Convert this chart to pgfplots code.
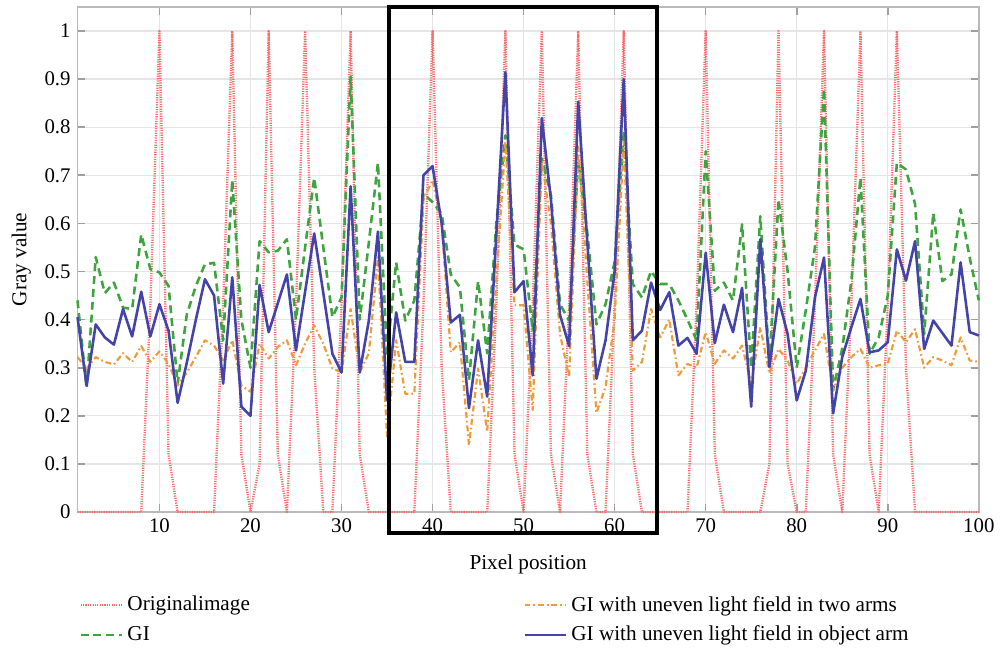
\documentclass[border=0pt]{standalone}
\usepackage{fontspec}
\setmainfont{Liberation Serif}
\usepackage{pgfplots}
\usepackage{pgfplotstable}
\pgfplotsset{compat=1.18}

\definecolor{origred}{HTML}{F46E6E}
\definecolor{gigreen}{HTML}{3FA33F}
\definecolor{twoorange}{HTML}{EE9B3C}
\definecolor{objblue}{HTML}{4343A8}

% x  orig  gi  two  obj
\pgfplotstableread{
x orig gi two obj
1 0 0.44 0.322 0.405
2 0 0.257 0.298 0.263
3 0 0.53 0.322 0.39
4 0 0.455 0.312 0.363
5 0 0.477 0.307 0.348
6 0 0.425 0.33 0.422
7 0 0.422 0.312 0.365
8 0 0.577 0.345 0.458
9 0.43 0.505 0.312 0.365
10 1 0.498 0.334 0.432
11 0.12 0.47 0.308 0.377
12 0 0.267 0.263 0.227
13 0 0.41 0.29 0.31
14 0 0.47 0.322 0.40
15 0 0.515 0.357 0.484
16 0 0.518 0.346 0.45
17 0.43 0.357 0.315 0.267
18 1 0.69 0.357 0.488
19 0.12 0.40 0.263 0.219
20 0 0.30 0.25 0.20
21 0.1 0.563 0.35 0.472
22 1 0.54 0.319 0.374
23 0.12 0.543 0.343 0.434
24 0 0.567 0.357 0.494
25 0.43 0.40 0.305 0.336
26 1 0.55 0.35 0.458
27 0.3 0.695 0.388 0.579
28 0 0.55 0.35 0.455
29 0 0.405 0.298 0.329
30 0.43 0.446 0.291 0.29
31 1 0.905 0.422 0.677
32 0.12 0.40 0.291 0.29
33 0 0.56 0.33 0.398
34 0 0.726 0.53 0.583
35 0 0.325 0.157 0.232
36 0 0.519 0.357 0.415
37 0 0.398 0.246 0.312
38 0 0.44 0.246 0.312
39 0.43 0.662 0.65 0.70
40 1 0.644 0.69 0.719
41 0.3 0.62 0.60 0.60
42 0 0.494 0.332 0.394
43 0 0.467 0.353 0.41
44 0 0.274 0.139 0.216
45 0 0.48 0.298 0.357
46 0 0.33 0.167 0.24
47 0.43 0.60 0.48 0.575
48 1 0.783 0.77 0.914
49 0.12 0.556 0.43 0.457
50 0 0.546 0.43 0.48
51 0.43 0.377 0.212 0.284
52 1 0.735 0.73 0.819
53 0.12 0.66 0.60 0.65
54 0 0.432 0.37 0.41
55 0.43 0.398 0.28 0.345
56 1 0.73 0.76 0.853
57 0.12 0.58 0.48 0.56
58 0 0.39 0.206 0.277
59 0 0.432 0.26 0.357
60 0.43 0.52 0.40 0.50
61 1 0.788 0.77 0.90
62 0.12 0.474 0.294 0.357
63 0 0.446 0.312 0.377
64 0 0.501 0.422 0.477
65 0 0.474 0.363 0.42
66 0 0.474 0.40 0.457
67 0 0.44 0.284 0.346
68 0 0.40 0.308 0.362
69 0.43 0.357 0.30 0.329
70 1 0.75 0.374 0.539
71 0.12 0.46 0.308 0.351
72 0 0.477 0.336 0.431
73 0 0.44 0.319 0.374
74 0 0.598 0.346 0.466
75 0 0.30 0.267 0.219
76 0 0.615 0.384 0.567
77 0.1 0.308 0.288 0.301
78 1 0.65 0.339 0.443
79 0.1 0.50 0.315 0.37
80 0 0.30 0.267 0.232
81 0 0.42 0.30 0.294
82 0.43 0.55 0.336 0.446
83 1 0.88 0.37 0.529
84 0.12 0.253 0.253 0.205
85 0 0.34 0.30 0.322
86 0.43 0.48 0.322 0.384
87 1 0.695 0.339 0.443
88 0.12 0.329 0.30 0.332
89 0 0.363 0.305 0.336
90 0.43 0.45 0.308 0.353
91 1 0.726 0.377 0.546
92 0.3 0.712 0.353 0.481
93 0 0.64 0.38 0.563
94 0 0.37 0.30 0.339
95 0 0.622 0.322 0.398
96 0 0.48 0.315 0.372
97 0 0.494 0.305 0.346
98 0 0.629 0.363 0.519
99 0 0.529 0.315 0.374
100 0 0.44 0.312 0.367
}\grayvalues

\begin{document}
\begin{tikzpicture}
\begin{axis}[
  scale only axis,
  width=455pt,
  height=255pt,
  xmin=1, xmax=100,
  ymin=0, ymax=1.05,
  xtick={10,20,...,100},
  ytick={0,0.1,...,1},
  yticklabels={0,0.1,0.2,0.3,0.4,0.5,0.6,0.7,0.8,0.9,1},
  grid=major,
  major grid style={gray!20, line width=0.6pt},
  axis line style={gray!55, line width=0.8pt},
  major tick style={gray!75, line width=0.8pt},
  major tick length=4pt,
  tick align=inside,
  tick label style={font=\fontsize{10.5}{12}\selectfont},
  /pgf/number format/assume math mode=true,
  xlabel={Pixel position},
  xlabel style={yshift=-4pt},
  ylabel={Gray value},
  label style={font=\fontsize{10.7}{12}\selectfont},
  clip=false,
  legend columns=2,
  transpose legend,
  legend cell align=left,
  legend style={draw=none, fill=none, at={(-0.005,-0.15)}, anchor=north west,
    font=\fontsize{10.7}{12}\selectfont, row sep=2pt,
    /tikz/every even column/.append style={column sep=136pt}},
  legend image code/.code={\draw[#1] (0pt,0pt) -- (21pt,0pt);},
]
\addplot[origred, line width=1.2pt, line join=round, dash pattern=on 0.6pt off 0.6pt] table[x=x, y=orig] {\grayvalues};
\addlegendentry{Originalimage}
\addplot[gigreen, line width=1.3pt, line join=round, dash pattern=on 4pt off 2.5pt] table[x=x, y=gi] {\grayvalues};
\addlegendentry{GI}
\addplot[twoorange, line width=1.1pt, line join=round, dash pattern=on 3pt off 1.5pt on 0.8pt off 1.5pt] table[x=x, y=two] {\grayvalues};
\addlegendentry{GI with uneven light field in two arms}
\addplot[objblue, line width=1.3pt, line join=round] table[x=x, y=obj] {\grayvalues};
\addlegendentry{GI with uneven light field in object arm}
\draw[black, line width=2pt] (axis cs:35.2,-0.043) rectangle (axis cs:64.7,1.049);
\path (rel axis cs:-0.086,-0.261) rectangle (rel axis cs:1.0176,1.0137);
\end{axis}
\end{tikzpicture}
\end{document}
